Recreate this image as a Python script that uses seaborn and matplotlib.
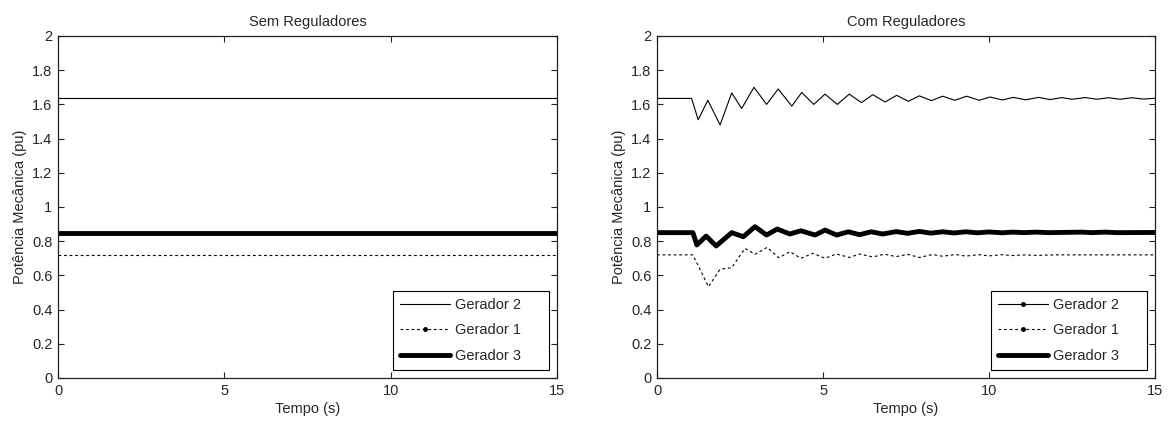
import numpy as np
import pandas as pd
import matplotlib
matplotlib.use("Agg")
import matplotlib.pyplot as plt
from matplotlib.lines import Line2D
import seaborn as sns

# --- data ---
# "Sem Reguladores": constant mechanical power
t_sem = [0, 15]
g2_sem = [1.635, 1.635]
g1_sem = [0.72, 0.72]
g3_sem = [0.85, 0.85]

# "Com Reguladores": peaks / troughs of each response
t_g2 = [0, 1.04, 1.24, 1.53, 1.9, 2.25, 2.55, 2.92, 3.3, 3.65, 4.06, 4.36, 4.72, 5.06,
        5.43, 5.79, 6.16, 6.5, 6.87, 7.22, 7.57, 7.9, 8.27, 8.6, 8.97, 9.33, 9.7, 10.03,
        10.4, 10.73, 11.1, 11.5, 11.84, 12.19, 12.5, 12.9, 13.25, 13.6, 13.95, 14.3, 14.65, 15]
g2_com = [1.635, 1.635, 1.51, 1.624, 1.48, 1.667, 1.576, 1.70, 1.60, 1.69, 1.59, 1.67, 1.60, 1.66,
          1.60, 1.66, 1.61, 1.657, 1.614, 1.653, 1.618, 1.65, 1.622, 1.648, 1.624, 1.648, 1.624, 1.643,
          1.626, 1.641, 1.627, 1.641, 1.628, 1.64, 1.63, 1.64, 1.63, 1.639, 1.63, 1.639, 1.631, 1.636]

t_g1 = [0, 1.08, 1.55, 1.9, 2.25, 2.65, 2.95, 3.32, 3.67, 4.0, 4.33, 4.7, 5.06, 5.4, 5.8, 6.1,
        6.5, 6.85, 7.2, 7.55, 7.9, 8.3, 8.6, 9.0, 9.3, 9.7, 10.0, 10.4, 10.7, 11.1, 11.4, 12.0, 15]
g1_com = [0.72, 0.72, 0.534, 0.636, 0.645, 0.758, 0.723, 0.764, 0.703, 0.739, 0.70, 0.729, 0.70,
          0.725, 0.705, 0.725, 0.708, 0.724, 0.71, 0.723, 0.705, 0.722, 0.712, 0.722, 0.713, 0.721,
          0.714, 0.721, 0.716, 0.72, 0.717, 0.72, 0.72]

t_g3 = [0, 1.08, 1.2, 1.48, 1.78, 2.25, 2.6, 2.95, 3.3, 3.62, 4.0, 4.33, 4.76, 5.06, 5.41, 5.76,
        6.1, 6.45, 6.8, 7.2, 7.55, 7.9, 8.25, 8.6, 8.95, 9.3, 9.65, 10.0, 10.4, 10.7, 11.05, 11.4,
        11.8, 12.8, 13.1, 13.5, 13.85, 15]
g3_com = [0.85, 0.85, 0.778, 0.83, 0.772, 0.85, 0.826, 0.885, 0.836, 0.871, 0.842, 0.861, 0.836,
          0.865, 0.836, 0.855, 0.838, 0.855, 0.842, 0.856, 0.846, 0.857, 0.847, 0.855, 0.848, 0.855,
          0.849, 0.854, 0.849, 0.853, 0.85, 0.853, 0.85, 0.853, 0.85, 0.853, 0.85, 0.851]

titles = ['Sem Reguladores', 'Com Reguladores']
legend_labels = ['Gerador 2', 'Gerador 1', 'Gerador 3']
y_ticks = [0, 0.2, 0.4, 0.6, 0.8, 1, 1.2, 1.4, 1.6, 1.8, 2]
y_tick_labels = ['0', '0.2', '0.4', '0.6', '0.8', '1', '1.2', '1.4', '1.6', '1.8', '2']
x_ticks = [0, 5, 10, 15]

sns.set_style('white')
plt.rcParams['font.family'] = ['Liberation Sans', 'DejaVu Sans']
plt.rcParams['font.size'] = 10.5

fig = plt.figure(figsize=(11.72, 4.22), dpi=100)
ax1 = fig.add_axes([0.0495, 0.1043, 0.4258, 0.8104])
ax2 = fig.add_axes([0.5606, 0.1043, 0.4249, 0.8104])

dash = (0, (2.5, 2.5))

df_sem = pd.DataFrame({'t': t_sem, 'g2': g2_sem, 'g1': g1_sem, 'g3': g3_sem})
sns.lineplot(x='t', y='g2', data=df_sem, ax=ax1, color='black', lw=0.8)
sns.lineplot(x='t', y='g1', data=df_sem, ax=ax1, color='black', lw=0.8, linestyle=dash)
sns.lineplot(x='t', y='g3', data=df_sem, ax=ax1, color='black', lw=3.5)

sns.lineplot(x=t_g2, y=g2_com, ax=ax2, color='black', lw=0.8)
sns.lineplot(x=t_g1, y=g1_com, ax=ax2, color='black', lw=0.8, linestyle=dash)
sns.lineplot(x=t_g3, y=g3_com, ax=ax2, color='black', lw=3.5)

for i, ax in enumerate([ax1, ax2]):
    ax.set_xlim(0, 15)
    ax.set_ylim(0, 2)
    ax.set_xticks(x_ticks)
    ax.set_yticks(y_ticks)
    ax.set_yticklabels(y_tick_labels)
    ax.set_title(titles[i], fontsize=10.5, pad=7)
    ax.set_xlabel('Tempo (s)', labelpad=3)
    ax.set_ylabel('Potência Mecânica (pu)', labelpad=4)
    ax.tick_params(direction='in', length=4, width=0.8, top=True, right=True,
                   bottom=True, left=True, color='#222222', pad=4)
    for s in ax.spines.values():
        s.set_color('#222222')
        s.set_linewidth(0.9)

    handles = [
        Line2D([], [], color='black', lw=0.8, marker='o' if i == 1 else None, markersize=2.5),
        Line2D([], [], color='black', lw=0.8, linestyle=dash, marker='o', markersize=2.5),
        Line2D([], [], color='black', lw=3.5, marker='o', markersize=1.5),
    ]
    leg = ax.legend(handles, [lab + '     ' for lab in legend_labels], loc='lower right',
                    numpoints=1, fancybox=False, framealpha=1, edgecolor='black',
                    handlelength=3.4, handletextpad=0.35, borderpad=0.5,
                    borderaxespad=0.55, labelspacing=0.78, fontsize=10.5)
    leg.get_frame().set_linewidth(0.8)

fig.savefig('out.png', dpi=100)
